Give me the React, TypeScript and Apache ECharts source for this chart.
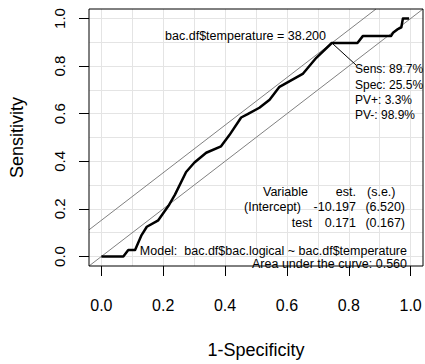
import React, { useEffect, useRef } from "react";
import * as echarts from "echarts";

// ROC curve points (1-Specificity, Sensitivity)
const fpr = [0, 0.071, 0.087, 0.109, 0.13, 0.147, 0.184, 0.217, 0.238, 0.274, 0.301, 0.339, 0.387, 0.414, 0.452, 0.473, 0.511, 0.544, 0.576, 0.651, 0.695, 0.745, 0.828, 0.846, 0.937, 0.943, 0.957, 0.97, 0.975, 0.995];
const tpr = [0, 0, 0.027, 0.027, 0.09, 0.125, 0.152, 0.213, 0.26, 0.355, 0.395, 0.436, 0.463, 0.51, 0.584, 0.598, 0.625, 0.659, 0.713, 0.767, 0.835, 0.897, 0.897, 0.927, 0.927, 0.94, 0.954, 0.963, 1.0, 1.0];

const xTicks = [0, 0.2, 0.4, 0.6, 0.8, 1.0];
const yTicks = [0, 0.2, 0.4, 0.6, 0.8, 1.0];
const gridValues = [0, 0.1, 0.2, 0.3, 0.4, 0.5, 0.6, 0.7, 0.8, 0.9, 1.0];

const axisMin = -0.04;
const axisMax = 1.04;

// Optimal cut-off
const cutoffVar = "bac.df$temperature";
const cutoffValue = 38.2;
const optSens = 0.897;
const optSpec = 0.255;
const optPVpos = 0.033;
const optPVneg = 0.989;

// Model table
const tableHeader = ["Variable", "est.", "(s.e.)"];
const tableVars = ["(Intercept)", "test"];
const tableEst = [-10.197, 0.171];
const tableSe = [6.52, 0.167];
const modelText = "Model:  bac.df$bac.logical ~ bac.df$temperature";
const auc = 0.56;

const FONT = "'Liberation Sans', Arial, sans-serif";

export default function App() {
  const ref = useRef<HTMLDivElement>(null);
  useEffect(() => {
    if (!ref.current) return;
    const chart = echarts.init(ref.current, null, { renderer: "svg" });
    const curve = fpr.map((x, i) => [x, tpr[i]]);
    const optX = 1 - optSpec;
    const youdenOffset = optSens - optX;
    const diag = [[axisMin, axisMin], [axisMax, axisMax]];
    const youden = [[axisMin, axisMin + youdenOffset], [axisMax - youdenOffset, axisMax]];
    const gridLines = [
      ...gridValues.map((v) => ({ coords: [[v, axisMin], [v, axisMax]] })),
      ...gridValues.map((v) => ({ coords: [[axisMin, v], [axisMax, v]] })),
    ];
    const pct = (v: number) => (v * 100).toFixed(1) + "%";
    const txt = (text: string, x: number, y: number, align: string, size = 12.5) => ({
      type: "text",
      x,
      y,
      silent: true,
      style: {
        text,
        fill: "#000",
        font: `${size}px ${FONT}`,
        textAlign: align,
        textVerticalAlign: "middle",
      },
      z: 10,
    });
    const optLines = [
      "Sens: " + pct(optSens),
      "Spec: " + pct(optSpec),
      "PV+: " + pct(optPVpos),
      "PV-: " + pct(optPVneg),
    ];
    const graphics: any[] = [
      txt(`${cutoffVar} = ${cutoffValue.toFixed(3)}`, 326, 36, "right"),
      ...optLines.map((t, i) => txt(t, 355, 69.3 + i * 15.3, "left", 12)),
      {
        type: "line",
        silent: true,
        shape: { x1: 333, y1: 44, x2: 356, y2: 65 },
        style: { stroke: "#000", lineWidth: 1 },
        z: 10,
      },
      txt(tableHeader[0], 263, 191.7, "left"),
      txt(tableHeader[1], 356, 191.7, "right"),
      txt(tableHeader[2], 367, 191.7, "left"),
      txt(tableVars[0], 244, 207.3, "left"),
      txt(tableEst[0].toFixed(3), 356, 207.3, "right"),
      txt(`(${tableSe[0].toFixed(3)})`, 405, 207.3, "right"),
      txt(tableVars[1], 312, 222.7, "right"),
      txt(tableEst[1].toFixed(3), 356, 222.7, "right"),
      txt(`(${tableSe[1].toFixed(3)})`, 405, 222.7, "right"),
      txt(modelText, 407, 251, "right"),
      txt(`Area under the curve: ${auc.toFixed(3)}`, 407, 263.5, "right"),
    ];

    chart.setOption({
      animation: false,
      backgroundColor: "#fff",
      textStyle: { fontFamily: FONT },
      grid: {
        left: 89,
        top: 9,
        right: 2,
        bottom: 88,
        show: true,
        borderColor: "#000",
        borderWidth: 1,
        backgroundColor: "transparent",
        z: 5,
      },
      xAxis: {
        type: "value",
        min: axisMin,
        max: axisMax,
        name: "1-Specificity",
        nameLocation: "middle",
        nameGap: 75,
        nameTextStyle: { color: "#000", fontSize: 18, fontFamily: FONT },
        axisLine: { show: false, onZero: false },
        splitLine: { show: false },
        axisTick: {
          show: true,
          customValues: xTicks,
          length: 10,
          lineStyle: { color: "#000", width: 1 },
        },
        axisLabel: {
          customValues: xTicks,
          formatter: (v: number) => v.toFixed(1),
          color: "#000",
          fontSize: 16,
          fontFamily: FONT,
          margin: 31,
        },
      },
      yAxis: {
        type: "value",
        min: axisMin,
        max: axisMax,
        name: "Sensitivity",
        nameLocation: "middle",
        nameGap: 63,
        nameTextStyle: { color: "#000", fontSize: 18, fontFamily: FONT },
        axisLine: { show: false, onZero: false },
        splitLine: { show: false },
        axisTick: {
          show: true,
          customValues: yTicks,
          length: 10,
          lineStyle: { color: "#000", width: 1 },
        },
        axisLabel: {
          customValues: yTicks,
          formatter: (v: number) => v.toFixed(1),
          color: "#000",
          fontSize: 15,
          fontFamily: FONT,
          rotate: 90,
          margin: 22,
        },
      },
      series: [
        {
          type: "lines",
          name: "grid",
          coordinateSystem: "cartesian2d",
          data: gridLines,
          silent: true,
          z: 0,
          lineStyle: { color: "#e4e4e4", width: 1, opacity: 1 },
        },
        {
          type: "line",
          name: "diagonal",
          data: diag,
          showSymbol: false,
          silent: true,
          z: 1,
          lineStyle: { color: "#808080", width: 1 },
        },
        {
          type: "line",
          name: "youden",
          data: youden,
          showSymbol: false,
          silent: true,
          z: 1,
          lineStyle: { color: "#808080", width: 1 },
        },
        {
          type: "line",
          name: "ROC",
          data: curve,
          showSymbol: false,
          silent: true,
          z: 3,
          lineStyle: { color: "#000", width: 2.5, join: "round" },
        },
      ],
      graphic: graphics,
    });
    return () => chart.dispose();
  }, []);
  return (
    <div
      ref={ref}
      style={{ position: "fixed", left: 0, top: 0, width: 425, height: 364 }}
    />
  );
}
